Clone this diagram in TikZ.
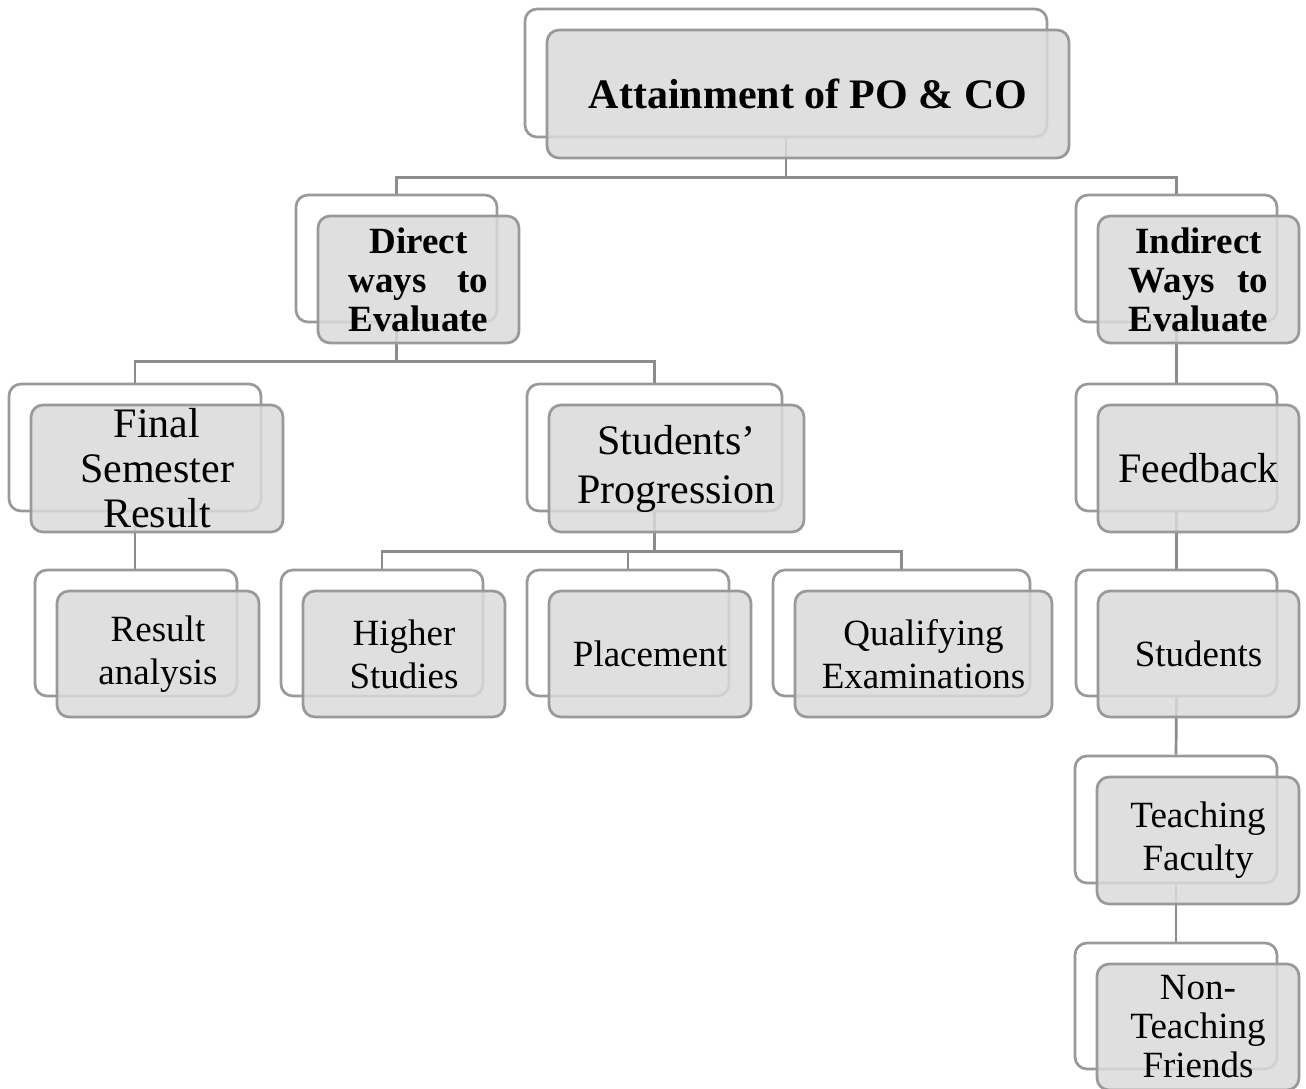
\documentclass[tikz,border=0pt]{standalone}
\usepackage{fontspec}
\setmainfont{Liberation Serif}
\usepackage{calc}
\usetikzlibrary{backgrounds}
\definecolor{framegray}{HTML}{999999}
\definecolor{conngray}{HTML}{8C8C8C}
\definecolor{frontfill}{HTML}{DADADA}
\tikzset{
  backbox/.style={draw=framegray, line width=2.7pt, fill=white, rounded corners=12pt, inner sep=0pt},
  frontbox/.style={draw=framegray, line width=2.7pt, fill=frontfill, fill opacity=0.85, rounded corners=12pt, inner sep=0pt},
  conn/.style={draw=conngray, line width=2.7pt},
  lbl/.style={align=center, inner sep=0pt, text=black}
}
% name, x1, y1, x2, y2, font, text
\newcommand\pairbox[7]{%
  \node[backbox, minimum width={#4pt-#2pt}, minimum height={#5pt-#3pt}] (#1B) at ({(#2+#4)/2},{(#3+#5)/2}) {};
  \node[frontbox, minimum width={#4pt-#2pt}, minimum height={#5pt-#3pt}] (#1) at ({(#2+#4)/2+22},{(#3+#5)/2+21}) {};
  \node[lbl, font=#6] (#1T) at (#1) {#7};
}
\begin{document}
\begin{tikzpicture}[x=1pt, y=-1pt]
\useasboundingbox (0,0) rectangle (1306,1088);
\pairbox{top}{525}{9}{1047}{137}{\bfseries\fontsize{42}{48}\selectfont}{Attainment of PO \& CO}
\pairbox{dir}{296}{195}{497}{322}{\bfseries\fontsize{37}{39}\selectfont}{Direct\\\makebox[\widthof{Evaluate}]{ways\hfill to}\\Evaluate}
\pairbox{ind}{1076}{195}{1277}{322}{\bfseries\fontsize{37}{39}\selectfont}{Indirect\\\makebox[\widthof{Evaluate}]{Ways\hfill to}\\Evaluate}
\pairbox{fin}{9}{384}{261}{511}{\fontsize{42}{45}\selectfont}{Final\\Semester\\Result}
\pairbox{sp}{527}{384}{782}{511}{\fontsize{42}{49}\selectfont}{Students’\\Progression}
\pairbox{res}{35}{570}{237}{696}{\fontsize{37}{43}\selectfont}{Result\\analysis}
\pairbox{hig}{281}{570}{483}{696}{\fontsize{37}{43}\selectfont}{Higher\\Studies}
\pairbox{pla}{527}{570}{729}{696}{\fontsize{37}{43}\selectfont}{Placement}
\pairbox{qua}{773}{570}{1030}{696}{\fontsize{37}{43}\selectfont}{Qualifying\\Examinations}
\pairbox{fb}{1076}{384}{1277}{511}{\fontsize{42}{48}\selectfont}{Feedback}
\pairbox{stu}{1076}{570}{1277}{696}{\fontsize{37}{43}\selectfont}{Students}
\pairbox{tea}{1075}{756}{1277}{883}{\fontsize{37}{43}\selectfont}{Teaching\\Faculty}
\pairbox{non}{1075}{943}{1277}{1069}{\fontsize{37}{39}\selectfont}{Non-\\Teaching\\Friends}
\begin{scope}[on background layer]
  \draw[conn] (topB.south) -- ++(0,39) coordinate (j1);
  \draw[conn] (j1) -| (dirB.north);
  \draw[conn] (j1) -| (indB.north);
  \draw[conn] (dirB.south) -- ++(0,38) coordinate (j2);
  \draw[conn] (j2) -| (finB.north);
  \draw[conn] (j2) -| (spB.north);
  \draw[conn] (finB.south) -- (finB.south |- resB.north);
  \draw[conn] (spB.south) -- ++(0,39) coordinate (j3);
  \draw[conn] (j3) -| (higB.north);
  \draw[conn] (j3) -| (plaB.north);
  \draw[conn] (j3) -| (quaB.north);
  \draw[conn] (indB.south) -- (fbB.north);
  \draw[conn] (fbB.south) -- (stuB.north);
  \draw[conn] (stuB.south) -- (teaB.north);
  \draw[conn] (teaB.south) -- (nonB.north);
\end{scope}
\end{tikzpicture}
\end{document}
